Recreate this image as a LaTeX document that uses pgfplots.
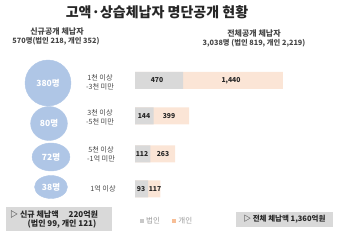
\documentclass[border=0pt]{standalone}
\usepackage{fontspec}
\setmainfont{Noto Sans CJK KR}
\usepackage{pgfplots}
\pgfplotsset{compat=1.18}
\definecolor{circ}{RGB}{175,198,230}
\definecolor{bgray}{RGB}{217,217,217}
\definecolor{bpink}{RGB}{251,229,214}
\definecolor{lgray}{RGB}{200,200,200}
\definecolor{lpink}{RGB}{247,190,150}
\definecolor{boxg}{RGB}{217,217,217}
\definecolor{txt}{RGB}{38,38,38}
\definecolor{txt2}{RGB}{70,70,70}
\newcommand{\fs}[1]{\fontsize{#1bp}{#1bp}\selectfont}
\begin{document}
\begin{tikzpicture}
\useasboundingbox (0,0) rectangle (340bp,246bp);
\begin{axis}[at={(135bp,0)}, anchor=south west, scale only axis, width=148bp, height=246bp,
  xmin=0.001, xmax=1910, ymin=0, ymax=246, hide axis, clip=false,
  xbar, bar width=17bp, bar shift=0pt,
  x coord trafo/.code={\pgfmathparse{pow(#1,0.8)}},
  legend image code/.code={\fill[#1] (0bp,-2.2bp) rectangle (4.4bp,2.2bp);},
  legend columns=2,
  legend style={at={(0.216,0.1016)}, anchor=center, draw=none, fill=none,
    font=\fs{7.5}, text=black!40, /tikz/every even column/.append style={column sep=10bp}}]
% totals (corporate + individual) drawn first, corporate on top
\addplot[draw=none, fill=bpink, forget plot] coordinates {(1910,165.5) (543,130) (375,92) (210,57)};
\addplot[draw=none, fill=bgray, forget plot] coordinates {(470,165.5) (144,130) (112,92) (93,57)};
\addlegendimage{draw=none, fill=lgray}
\addlegendentry{법인}
\addlegendimage{draw=none, fill=lpink}
\addlegendentry{개인}
\end{axis}
\begin{axis}[at={(0,0)}, anchor=south west, scale only axis, width=340bp, height=246bp,
  xmin=0, xmax=340, ymin=0, ymax=246, hide axis, clip=false]
% circles (counts of new disclosures)
\addplot[circ, only marks, mark=*, mark size=23bp, mark options={draw=circ, fill=circ, xscale=1.0},
  nodes near coords, nodes near coords align=center, point meta=explicit symbolic,
  every node near coord/.append style={font=\fs{8.5}\bfseries, text=white}]
  coordinates {(48,163) [380명]};
\addplot[circ, only marks, mark=*, mark size=17bp, mark options={draw=circ, fill=circ, xscale=1.08},
  nodes near coords, nodes near coords align=center, point meta=explicit symbolic,
  every node near coord/.append style={font=\fs{8.5}\bfseries, text=white}]
  coordinates {(49,122.5) [80명]};
\addplot[circ, only marks, mark=*, mark size=14bp, mark options={draw=circ, fill=circ, xscale=1.35},
  nodes near coords, nodes near coords align=center, point meta=explicit symbolic,
  every node near coord/.append style={font=\fs{8.5}\bfseries, text=white}]
  coordinates {(51,89) [72명]};
\addplot[circ, only marks, mark=*, mark size=11.5bp, mark options={draw=circ, fill=circ, xscale=1.43},
  nodes near coords, nodes near coords align=center, point meta=explicit symbolic,
  every node near coord/.append style={font=\fs{8.5}\bfseries, text=white}]
  coordinates {(51,59) [38명]};
% bar value labels
\addplot[only marks, mark=*, mark size=0pt, mark options={draw=none, fill=none},
  scatter/use mapped color={draw=none, fill=none},
  nodes near coords, nodes near coords align=center, point meta=explicit symbolic,
  every node near coord/.append style={font=\fs{6.8}\bfseries, text=txt, inner sep=0pt}]
  coordinates {(157,165.5) [470] (231,165.5) [{1,440}]
               (144,130) [144] (169,130) [399]
               (142,92) [112] (163,92) [263]
               (141,57) [93] (155,57) [117]};
% titles
\node[font=\fs{14}\bfseries, text=txt] at (axis cs:157,233.5) {고액·상습체납자 명단공개 현황};
\node[font=\fs{8}\bfseries, text=txt2] at (axis cs:57,214.5) {신규공개 체납자};
\node[font=\fs{7.3}\bfseries, text=txt2] at (axis cs:56,204.3) {570명(법인 218, 개인 352)};
\node[font=\fs{8}\bfseries, text=txt2] at (axis cs:254,212.5) {전체공개 체납자};
\node[font=\fs{7.3}\bfseries, text=txt2] at (axis cs:254,202.5) {3,038명 (법인 819, 개인 2,219)};
% range labels
\node[font=\fs{7.2}, text=txt2, align=center, inner sep=0pt] at (axis cs:100,164) {1천 이상\\[1.5bp]-3천 미만};
\node[font=\fs{7.2}, text=txt2, align=center, inner sep=0pt] at (axis cs:100,128.5) {3천 이상\\[1.5bp]-5천 미만};
\node[font=\fs{7.2}, text=txt2, align=center, inner sep=0pt] at (axis cs:101,91.5) {5천 이상\\[1.5bp]-1억 미만};
\node[font=\fs{7.2}, text=txt2, inner sep=0pt] at (axis cs:103,57) {1억 이상};
% bottom boxes
\fill[boxg] (axis cs:6,15) rectangle (axis cs:112,39);
\node[font=\fs{8}\bfseries, text=txt, anchor=west, inner sep=0pt] at (axis cs:10,32) {▷ 신규 체납액\hspace{10bp}220억원};
\node[font=\fs{8}\bfseries, text=txt, inner sep=0pt] at (axis cs:62,21.5) {(법인 99, 개인 121)};
\fill[boxg] (axis cs:236,19) rectangle (axis cs:333,34);
\node[font=\fs{7.5}\bfseries, text=txt, inner sep=0pt] at (axis cs:284.5,26.5) {▷ 전체 체납액 1,360억원};
\end{axis}
\end{tikzpicture}
\end{document}
